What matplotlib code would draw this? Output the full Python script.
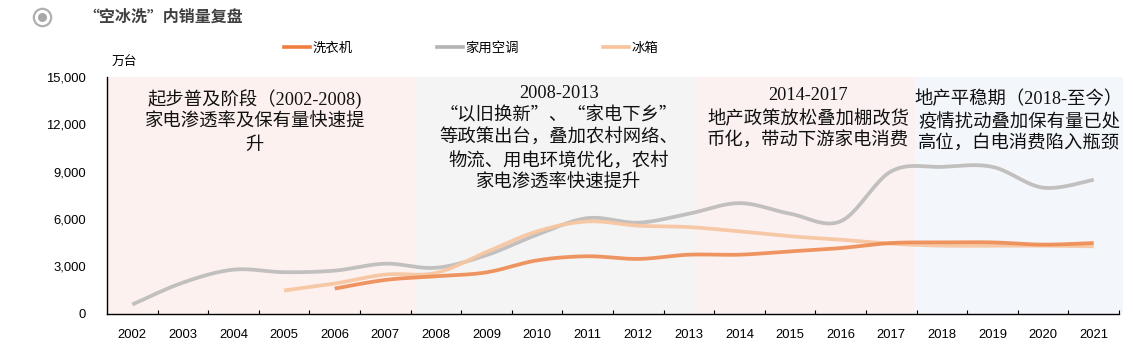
import numpy as np
import matplotlib
matplotlib.use("Agg")
import matplotlib.pyplot as plt
from matplotlib.lines import Line2D

# ---------------- data ----------------
years = [str(y) for y in range(2002, 2022)]
aircon = [570, 1960, 2780, 2620, 2720, 3160, 2900, 3700, 5000, 6050,
          5760, 6330, 7000, 6330, 5850, 9020, 9300, 9300, 7980, 8480]
washer = [np.nan] * 4 + [1580, 2130, 2360, 2610, 3370, 3630, 3460, 3730,
                         3730, 3940, 4150, 4470, 4510, 4510, 4370, 4470]
fridge = [np.nan] * 3 + [1460, 1900, 2470, 2570, 3900, 5210, 5840, 5570,
                         5480, 5210, 4900, 4680, 4430, 4300, 4300, 4300, 4260]
series_names = ["洗衣机", "家用空调", "冰箱"]
yticks = [0, 3000, 6000, 9000, 12000, 15000]

title = "“空冰洗”内销量复盘"
unit = "万台"
phase_texts = [
    ["起步普及阶段（2002-2008)", "家电渗透率及保有量快速提", "升"],
    ["2008-2013", "“以旧换新”、“家电下乡”", "等政策出台，叠加农村网络、",
     "物流、用电环境优化，农村", "家电渗透率快速提升"],
    ["2014-2017", "地产政策放松叠加棚改货", "币化，带动下游家电消费"],
    ["地产平稳期（2018-至今）", "疫情扰动叠加保有量已处", "高位，白电消费陷入瓶颈"],
]

# ---------------- styling ----------------
W, H = 1133, 349
plt.rcParams['font.family'] = ['Liberation Sans', 'Noto Sans CJK SC', 'DejaVu Sans']
fig = plt.figure(figsize=(W / 100, H / 100), dpi=100)
ax = fig.add_axes([107 / W, 1 - 313.5 / H, (1119 - 107) / W, (313.5 - 77) / H])

def fx(px):
    return px / W

def fy(py):
    return 1 - py / H

def smooth(xs, ys, n=24):
    xs = np.asarray(xs, float)
    ys = np.asarray(ys, float)
    m = ~np.isnan(ys)
    xs, ys = xs[m], ys[m]
    P = np.column_stack([xs, ys])
    out = []
    k = len(P)
    t = np.linspace(0, 1, n)[:, None]
    for i in range(k - 1):
        p0 = P[i - 1] if i > 0 else P[i]
        p1 = P[i]
        p2 = P[i + 1]
        p3 = P[i + 2] if i + 2 < k else P[i + 1]
        c1 = p1 + (p2 - p0) / 6
        c2 = p2 - (p3 - p1) / 6
        seg = ((1 - t) ** 3) * p1 + 3 * ((1 - t) ** 2) * t * c1 + 3 * (1 - t) * t ** 2 * c2 + t ** 3 * p2
        out.append(seg if i == 0 else seg[1:])
    S = np.vstack(out)
    return S[:, 0], S[:, 1]

x = np.arange(len(years))

# phase backgrounds (data coords on category axis)
spans = [(-0.5, 5.61, '#FCF1EF'), (5.61, 11.14, '#F4F4F4'),
         (11.14, 15.47, '#FBF1F1'), (15.47, 19.58, '#F3F6FB')]
for a, b, c in spans:
    ax.axvspan(a, b, ymin=0, ymax=1, color=c, lw=0, zorder=0, clip_on=False)

colors = {'洗衣机': '#EE8A50', '家用空调': '#C2BFBF', '冰箱': '#F7C6A2'}
sx, sy = smooth(x, aircon)
ax.plot(sx, sy, color=colors['家用空调'], lw=2.7, solid_capstyle='butt', zorder=2)
sx, sy = smooth(x, fridge)
ax.plot(sx, sy, color=colors['冰箱'], lw=2.7, alpha=0.95, solid_capstyle='butt', zorder=3)
sx, sy = smooth(x, washer)
ax.plot(sx, sy, color=colors['洗衣机'], lw=2.7, alpha=0.9, solid_capstyle='butt', zorder=4)

ax.set_xlim(-0.5, len(years) - 0.5)
ax.set_ylim(0, 15000)
ax.set_xticks(x)
ax.set_xticklabels(years)
ax.set_xticks(np.arange(0.5, len(years), 1.0), minor=True)
ax.tick_params(axis='x', which='major', length=0, pad=11, labelsize=9.4, colors='#000000')
ax.tick_params(axis='x', which='minor', direction='in', length=3, width=0.8, color='#000000')
ax.set_yticks(yticks)
ax.set_yticklabels([f"{v:,}" for v in yticks])
ax.tick_params(axis='y', which='major', length=0, pad=15, labelsize=9.4)
for s in ['top', 'right']:
    ax.spines[s].set_visible(False)
for s in ['left', 'bottom']:
    ax.spines[s].set_color('#000000')
    ax.spines[s].set_linewidth(1.0)
ax.patch.set_alpha(0)

# legend
handles = [Line2D([], [], color='#EF7F3F', lw=2.6),
           Line2D([], [], color='#B3B3B3', lw=2.6),
           Line2D([], [], color='#F8C39C', lw=2.6)]
fig.legend(handles, series_names, loc='center', bbox_to_anchor=(fx(471), fy(48)),
           ncol=3, frameon=False, handlelength=2.0,
           handletextpad=0.15, columnspacing=6.3, borderpad=0,
           prop={'family': ['Noto Sans CJK SC'], 'size': 9.6})

# unit label
fig.text(fx(112), fy(62), unit, ha='left', va='center', fontsize=9.2,
         family=['Noto Sans CJK SC'])

# title & icon
fig.text(fx(83), fy(17), title, ha='left', va='center', fontsize=11.5,
         fontweight='bold', color='#404040', family=['Noto Sans CJK SC', 'DejaVu Sans'])
fig.add_artist(Line2D([fx(42)], [fy(17)], marker='o', markersize=12.5,
                      markerfacecolor='white', markeredgecolor='#B0B0B0', mew=1.6))
fig.add_artist(Line2D([fx(42)], [fy(17)], marker='o', markersize=6.5,
                      markerfacecolor='#A8A8A8', markeredgecolor='#A8A8A8', mew=0))

# phase annotations
ann_font = ['Liberation Serif', 'Noto Sans CJK SC']
quote_font = ['Noto Sans CJK SC', 'Liberation Serif']
layout = [
    (255, [99, 122, 145]),
    (559, [93, 115, 138, 162, 183]),
    (808, [96, 119, 141]),
    (1019, [99, 122, 143]),
]
for (cx, ys), lines in zip(layout, phase_texts):
    for py, line in zip(ys, lines):
        fam = quote_font if '“' in line else ann_font
        fig.text(fx(cx), fy(py), line, ha='center', va='center', fontsize=13.2,
                 family=fam, color='#111111')

fig.savefig('out.png', dpi=100)
